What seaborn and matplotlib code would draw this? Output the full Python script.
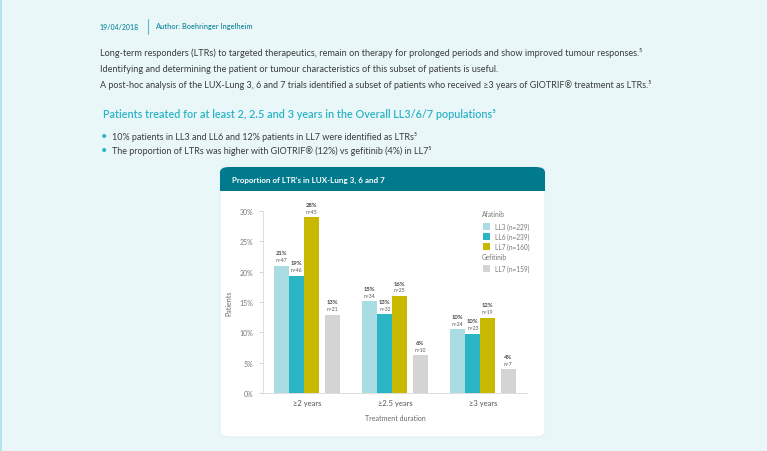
import matplotlib
matplotlib.use("Agg")
import matplotlib.pyplot as plt
from matplotlib.patches import FancyBboxPatch, Rectangle
from matplotlib.lines import Line2D
import pandas as pd
import seaborn as sns

# data
durations = ["≥2 years", "≥2.5 years", "≥3 years"]
groups = ["LL3 (n=229)", "LL6 (n=239)", "LL7 (n=160)", "Gefitinib LL7 (n=159)"]
ll3 = [21.0, 15.1, 10.5]
ll6 = [19.3, 13.0, 9.8]
ll7 = [29.0, 16.0, 12.4]
gef = [12.9, 6.2, 3.9]
pct_labels = [["21%", "15%", "10%"], ["19%", "13%", "10%"], ["28%", "16%", "12%"], ["13%", "6%", "4%"]]
n_labels = [["n=47", "n=34", "n=24"], ["n=46", "n=32", "n=23"], ["n=45", "n=25", "n=19"], ["n=21", "n=10", "n=7"]]
y_ticks = [0, 5, 10, 15, 20, 25, 30]

colors = ["#a9dce3", "#29b5c6", "#c9b800", "#d4d4d4"]

rows = []
for g, vals in zip(groups, [ll3, ll6, ll7, gef]):
    for d, v in zip(durations, vals):
        rows.append({"duration": d, "group": g, "value": v})
df = pd.DataFrame(rows)

sns.set_style("white")
plt.rcParams["font.family"] = ["Lato", "DejaVu Sans"]

W, H = 767, 452
fig = plt.figure(figsize=(W / 100, H / 100), dpi=100)
fig.patch.set_facecolor("#e9f7f8")


def fx(x):
    return x / W


def fy(y):
    return 1 - y / H


# page text
teal = "#1f8ea3"
dark = "#3c3c3c"
fig.text(fx(100), fy(27), "19/04/2018", color=teal, fontsize=5.0, fontweight="semibold", va="center")
fig.add_artist(Line2D([fx(148), fx(148)], [fy(20), fy(35)], color="#5fb8c8", lw=0.8))
fig.text(fx(155), fy(27), "Author: Boehringer Ingelheim", color=teal, fontsize=5.3, fontweight="semibold", va="center")

fig.text(fx(100), fy(53), "Long-term responders (LTRs) to targeted therapeutics, remain on therapy for prolonged periods and show improved tumour responses.⁵",
         color=dark, fontsize=6.6, va="center")
fig.text(fx(100), fy(69), "Identifying and determining the patient or tumour characteristics of this subset of patients is useful.",
         color=dark, fontsize=6.6, va="center")
fig.text(fx(100), fy(85), "A post-hoc analysis of the LUX-Lung 3, 6 and 7 trials identified a subset of patients who received ≥3 years of GIOTRIF® treatment as LTRs.⁵",
         color=dark, fontsize=6.5, va="center")

fig.text(fx(103), fy(114), "Patients treated for at least 2, 2.5 and 3 years in the Overall LL3/6/7 populations⁵",
         color="#2bb3c6", fontsize=7.8, fontweight="semibold", va="center")

for yy, txt in [(137, "10% patients in LL3 and LL6 and 12% patients in LL7 were identified as LTRs⁵"),
                (151, "The proportion of LTRs was higher with GIOTRIF® (12%) vs gefitinib (4%) in LL7⁵")]:
    fig.text(fx(104), fy(yy), "•", color="#2bb3c6", fontsize=8, va="center", ha="center")
    fig.text(fx(112), fy(yy), txt, color=dark, fontsize=6.5, va="center")

# left page border
fig.add_artist(Line2D([fx(0.5), fx(0.5)], [0, 1], color="#a9e1ec", lw=1.2))

# card
fig.add_artist(FancyBboxPatch((fx(220), fy(438)), fx(545) - fx(220), fy(168) - fy(438),
                              boxstyle="round,pad=0,rounding_size=0.012", transform=fig.transFigure,
                              facecolor="white", edgecolor="#dcecef", lw=0.6, zorder=0))
fig.add_artist(FancyBboxPatch((fx(220), fy(192)), fx(545) - fx(220), fy(168) - fy(192),
                              boxstyle="round,pad=0,rounding_size=0.012", transform=fig.transFigure,
                              facecolor="#017a8d", edgecolor="none", zorder=0.5))
fig.add_artist(Rectangle((fx(220), fy(192)), fx(545) - fx(220), fy(180) - fy(192),
                         transform=fig.transFigure, facecolor="#017a8d", edgecolor="none", zorder=0.6))
fig.text(fx(232), fy(180), "Proportion of LTR's in LUX-Lung 3, 6 and 7", color="white",
         fontsize=5.8, fontweight="bold", va="center")

# chart axes
ax = fig.add_axes([fx(263), fy(394), fx(527) - fx(263), fy(212) - fy(394)])
ax.set_facecolor("none")
sns.barplot(data=df, x="duration", y="value", hue="group", order=durations, hue_order=groups,
            palette=colors, width=0.68, saturation=1, ax=ax, legend=False)

shift = [-0.03, -0.03, -0.03, 0.03]
for i, cont in enumerate(ax.containers):
    for j, bar in enumerate(cont):
        bar.set_x(bar.get_x() + shift[i])
        bar.set_linewidth(0)
        cx = bar.get_x() + bar.get_width() / 2
        top = bar.get_height()
        ax.annotate(n_labels[i][j], (cx, top), xytext=(0, 2.5), textcoords="offset points",
                    ha="center", va="bottom", fontsize=3.6, color="#555555")
        ax.annotate(pct_labels[i][j], (cx, top), xytext=(0, 7.5), textcoords="offset points",
                    ha="center", va="bottom", fontsize=4.2, fontweight="bold", color="#444444")

ax.set_xlim(-0.5, 2.5)
ax.set_ylim(0, 30)
ax.set_yticks(y_ticks)
ax.set_yticklabels([f"{t}%" for t in y_ticks])
ax.set_xticks([0.5, 1.5, 2.5, -0.5], minor=True)
ax.tick_params(axis="x", which="major", length=0, labelsize=5.5, labelcolor="#555555", pad=4)
ax.tick_params(axis="x", which="minor", length=3, color="#cccccc", width=0.6, direction="out")
ax.tick_params(axis="y", length=3, color="#cccccc", width=0.6, labelsize=5, labelcolor="#777777",
               direction="out", pad=4, left=True)
for side in ["top", "right"]:
    ax.spines[side].set_visible(False)
for side in ["left", "bottom"]:
    ax.spines[side].set_color("#dddddd")
    ax.spines[side].set_linewidth(0.7)
ax.set_xlabel("Treatment duration", fontsize=5, color="#666666", labelpad=6)
ax.set_ylabel("Patients", fontsize=5, color="#666666", labelpad=5)

# legend (grouped by drug)
leg_color = "#777777"
fig.text(fx(482), fy(215), "Afatinib", color=leg_color, fontsize=4.8, va="center")
for k, yy in enumerate([227, 237, 247]):
    fig.add_artist(Rectangle((fx(483), fy(yy + 3.5)), fx(7), fx(7) * W / H, transform=fig.transFigure,
                             facecolor=colors[k], edgecolor="none"))
    fig.text(fx(495), fy(yy), groups[k], color=leg_color, fontsize=4.7, va="center")
fig.text(fx(482), fy(258), "Gefitinib", color=leg_color, fontsize=4.8, va="center")
fig.add_artist(Rectangle((fx(483), fy(269 + 3.5)), fx(7), fx(7) * W / H, transform=fig.transFigure,
                         facecolor=colors[3], edgecolor="none"))
fig.text(fx(495), fy(269), "LL7 (n=159)", color=leg_color, fontsize=4.7, va="center")

fig.savefig("out.png", dpi=100, facecolor=fig.get_facecolor())
